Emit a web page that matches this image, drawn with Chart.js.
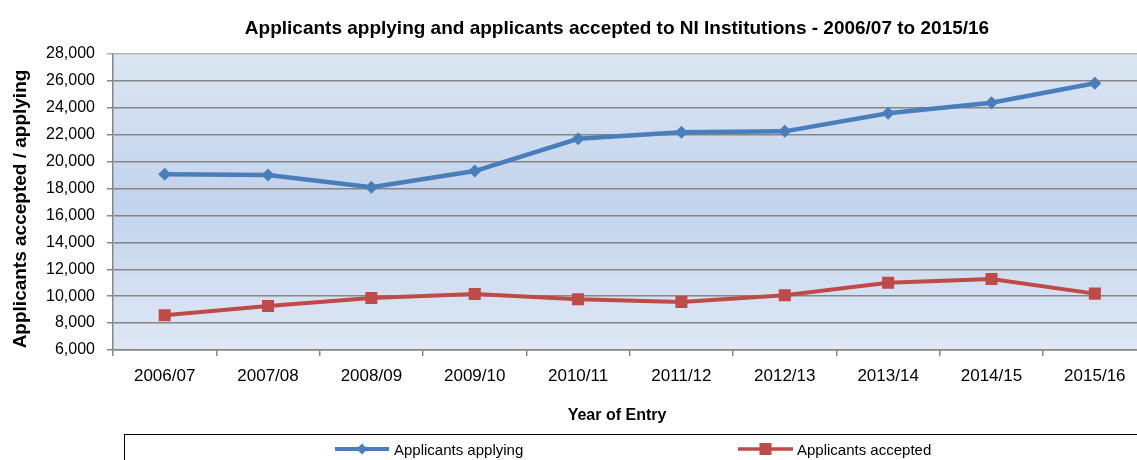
<!DOCTYPE html>
<html><head><meta charset="utf-8">
<script src="https://cdn.jsdelivr.net/npm/chart.js@4/dist/chart.umd.min.js"></script>
<style>
html,body{margin:0;padding:0;background:#fff;overflow:hidden;width:1137px;height:460px}
#wrap{position:relative;width:1155px;height:460px}
</style></head>
<body><div id="wrap"><canvas id="c" width="1155" height="460"></canvas></div>
<script>
const categories = ['2006/07','2007/08','2008/09','2009/10','2010/11','2011/12','2012/13','2013/14','2014/15','2015/16'];
const applying = [19060, 19000, 18100, 19300, 21700, 22180, 22250, 23590, 24380, 25820];
const accepted = [8580, 9270, 9870, 10160, 9770, 9570, 10070, 11000, 11280, 10190];
const seriesNames = ['Applicants applying', 'Applicants accepted'];
const yMin = 6000, yMax = 28000, yStep = 2000;
const titleText = 'Applicants applying and applicants accepted to NI Institutions - 2006/07 to 2015/16';
const xTitleText = 'Year of Entry';
const yTitleText = 'Applicants accepted / applying';

const BLUE = '#4a7ebb', RED = '#be4b48';
const FONT = '"Liberation Sans", Arial, sans-serif';

const bgPlugin = {
  id: 'bg',
  beforeDraw(chart) {
    const {ctx, chartArea: a} = chart;
    const g = ctx.createLinearGradient(0, a.top, 0, a.bottom);
    g.addColorStop(0, '#dce6f2');
    g.addColorStop(0.5, '#c2d3ec');
    g.addColorStop(1, '#dfe8f4');
    ctx.save();
    ctx.fillStyle = g;
    ctx.fillRect(a.left, a.top, a.right - a.left, a.bottom - a.top);
    ctx.restore();
  }
};

const textPlugin = {
  id: 'texts',
  afterDraw(chart) {
    const ctx = chart.ctx;
    ctx.save();
    ctx.fillStyle = '#000';
    ctx.textAlign = 'center';
    ctx.textBaseline = 'alphabetic';
    ctx.font = 'bold 19px ' + FONT;
    ctx.fillText(titleText, 617, 34);
    ctx.font = 'bold 16px ' + FONT;
    ctx.fillText(xTitleText, 617, 420);
    ctx.save();
    ctx.translate(26, 209);
    ctx.rotate(-Math.PI / 2);
    ctx.font = 'bold 19px ' + FONT;
    ctx.fillText(yTitleText, 0, 0);
    ctx.restore();

    // legend box
    ctx.strokeStyle = '#000';
    ctx.lineWidth = 1;
    ctx.strokeRect(124.5, 434.5, 1100, 60);
    const items = [
      {x0: 335, x1: 389, tx: 394, color: BLUE, style: 'rectRot', r: 5.5, lw: 4},
      {x0: 738, x1: 793, tx: 797, color: RED, style: 'rect', r: 8.5, lw: 3.5}
    ];
    const ly = 449;
    items.forEach((it, i) => {
      ctx.strokeStyle = it.color;
      ctx.lineWidth = it.lw;
      ctx.beginPath();
      ctx.moveTo(it.x0, ly);
      ctx.lineTo(it.x1, ly);
      ctx.stroke();
      ctx.fillStyle = it.color;
      Chart.helpers.drawPoint(ctx, {pointStyle: it.style, radius: it.r, borderWidth: 0, rotation: 0}, (it.x0 + it.x1) / 2, ly);
      ctx.fillStyle = '#000';
      ctx.textAlign = 'left';
      ctx.font = '15px ' + FONT;
      ctx.fillText(seriesNames[i], it.tx, 455);
    });
    ctx.restore();
  }
};

new Chart(document.getElementById('c'), {
  type: 'line',
  data: {
    labels: categories,
    datasets: [
      {label: seriesNames[0], data: applying, borderColor: BLUE, backgroundColor: BLUE,
       borderWidth: 4.5, pointStyle: 'rectRot', pointRadius: 6.5, pointBorderWidth: 0, tension: 0},
      {label: seriesNames[1], data: accepted, borderColor: RED, backgroundColor: RED,
       borderWidth: 4, pointStyle: 'rect', pointRadius: 8.5, pointBorderWidth: 0, tension: 0}
    ]
  },
  options: {
    responsive: false,
    animation: false,
    devicePixelRatio: 1,
    layout: {padding: {top: 54, right: 3, left: 0, bottom: 0}},
    plugins: {legend: {display: false}, title: {display: false}, tooltip: {enabled: false}},
    scales: {
      x: {
        type: 'category',
        offset: true,
        grid: {offset: true, drawOnChartArea: false, drawTicks: true, tickLength: 6, color: '#868686', lineWidth: 1.5},
        border: {color: '#868686', width: 1.5},
        ticks: {font: {size: 17, family: FONT}, color: '#000', padding: 10, maxRotation: 0, autoSkip: false},
        afterFit(s) { s.height = 110; }
      },
      y: {
        min: yMin, max: yMax,
        grid: {color: c => (c.tick && c.tick.value === yMax) ? '#b4b4b4' : '#868686', lineWidth: 1.5, tickLength: 6},
        border: {color: '#868686', width: 1.5},
        ticks: {stepSize: yStep, font: {size: 16, family: FONT}, color: '#000', padding: 12,
          callback: v => v.toLocaleString('en-US')},
        afterFit(s) { s.width = 113; }
      }
    }
  },
  plugins: [bgPlugin, textPlugin]
});
</script>
</body></html>
